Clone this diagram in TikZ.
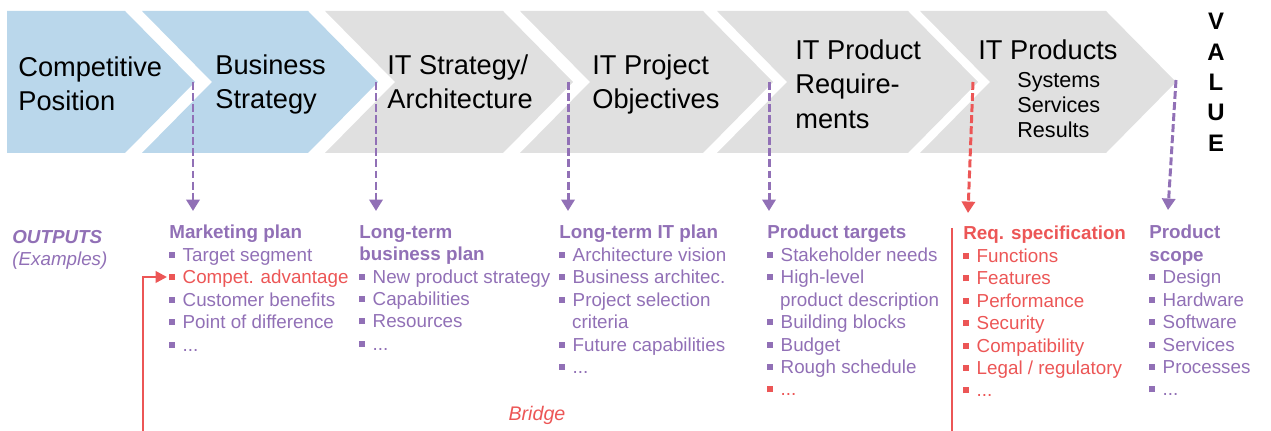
\documentclass[tikz,border=0pt]{standalone}
\usepackage{fontspec}
\setmainfont{Liberation Sans}
\usetikzlibrary{arrows.meta}
\definecolor{chevblue}{RGB}{186,215,235}
\definecolor{chevgray}{RGB}{224,224,224}
\definecolor{outpurple}{RGB}{145,112,182}
\definecolor{outred}{RGB}{236,86,86}
\newcommand{\bu}{\rule[2pt]{3.4pt}{3.4pt}\hspace{4.2pt}}
\newcommand{\bi}{\hspace*{7.3pt}}
\tikzset{
	chevtxt/.style={anchor=north west,inner sep=0,align=left,font=\fontsize{15.5}{19.8}\selectfont},
	outlist/.style={anchor=north west,inner sep=0,align=left,text=outpurple,font=\fontsize{10.7}{12.76}\selectfont},
	outarrow/.style={outpurple,line width=1.7pt,dash pattern=on 4.5pt off 1.8pt,-{Triangle[length=6.5pt,width=7.5pt]}},
	bridge/.style={outred,line width=1.5pt,-{Triangle[length=6.5pt,width=6.5pt]}}
}
\begin{document}
\begin{tikzpicture}[x=0.02cm,y=-0.02cm]
	\useasboundingbox (0,0) rectangle (1271,431);
	% chevrons
	\fill[chevblue] (7,11)--(125,11)--(195,82)--(125,153)--(7,153)--cycle;
	\foreach \a/\b/\col in {142/308/chevblue,325/503/chevgray,520/703/chevgray,717/908/chevgray,920/1106/chevgray}
		\fill[\col] (\a,11)--(\b,11)--(\b+70,82)--(\b,153)--(\a,153)--(\a+70,82)--cycle;
	\node[chevtxt] (cp) at (18,56) {Competitive\\Position};
	\node[chevtxt] (bs) at (215,54) {Business\\Strategy};
	\node[chevtxt] (its) at (387,54) {IT Strategy/\\Architecture};
	\node[chevtxt] (itp) at (592,54) {IT Project\\Objectives};
	\node[chevtxt] (ipr) at (795,39) {IT Product\\Require-\\ments};
	\node[chevtxt] (iprod) at (978,39) {IT Products};
	\node[chevtxt,font=\fontsize{12.3}{14.2}\selectfont] (sys) at (1017,72) {Systems\\Services\\Results};
	\node[anchor=north,inner sep=0,align=center,font=\bfseries\fontsize{13.6}{17.3}\selectfont] (value) at (1216,13) {V\\A\\L\\U\\E};
	% outputs
	\node[outlist] (outp) at (12,230) {\textbf{\textit{OUTPUTS}}\\\textit{(Examples)}};
	\node[outlist] (mkt) at (169,225) {\textbf{Marketing plan}\\\bu Target segment\\{\color{outred}\bu Compet. advantage}\\\bu Customer benefits\\\bu Point of difference\\\bu ...};
	\node[outlist] (ltb) at (359,225) {\textbf{Long-term}\\\textbf{business plan}\\\bu New product strategy\\\bu Capabilities\\\bu Resources\\\bu ...};
	\node[outlist] (ltit) at (559,225) {\textbf{Long-term IT plan}\\\bu Architecture vision\\\bu Business architec.\\\bu Project selection\\\bi criteria\\\bu Future capabilities\\\bu ...};
	\node[outlist] (prodt) at (767,225) {\textbf{Product targets}\\\bu Stakeholder needs\\\bu High-level\\\bi product description\\\bu Building blocks\\\bu Budget\\\bu Rough schedule\\{\color{outred}\bu ...}};
	\node[outlist,text=outred] (reqs) at (963,226) {\textbf{Req. specification}\\\bu Functions\\\bu Features\\\bu Performance\\\bu Security\\\bu Compatibility\\\bu Legal / regulatory\\\bu ...};
	\node[outlist] (scope) at (1149,225) {\textbf{Product}\\\textbf{scope}\\\bu Design\\\bu Hardware\\\bu Software\\\bu Services\\\bu Processes\\\bu ...};
	\node[anchor=base,inner sep=0,text=outred,font=\itshape\fontsize{11.2}{13}\selectfont] (brg) at (537,421) {Bridge};
	% dashed arrows
	\foreach \i/\x in {1/193,2/376,3/568,4/769}{
		\coordinate (t\i) at (\x,82);
		\coordinate (e\i) at (\x,211);
		\draw[outarrow] (t\i)--(e\i);
	}
	\coordinate (t5) at (973,82);
	\coordinate (e5) at (968,213);
	\draw[outarrow,outred] (t5)--(e5);
	\coordinate (t6) at (1176,80);
	\coordinate (e6) at (1168,210);
	\draw[outarrow] (t6)--(e6);
	% red lines
	\coordinate (rl1) at (952,228);
	\coordinate (rl2) at (952,431);
	\draw[outred,line width=1.6pt] (rl1)--(rl2);
	\coordinate (b0) at (143,431);
	\coordinate (ca) at (167,277);
	\draw[bridge] (b0) |- (ca);
\end{tikzpicture}
\end{document}
